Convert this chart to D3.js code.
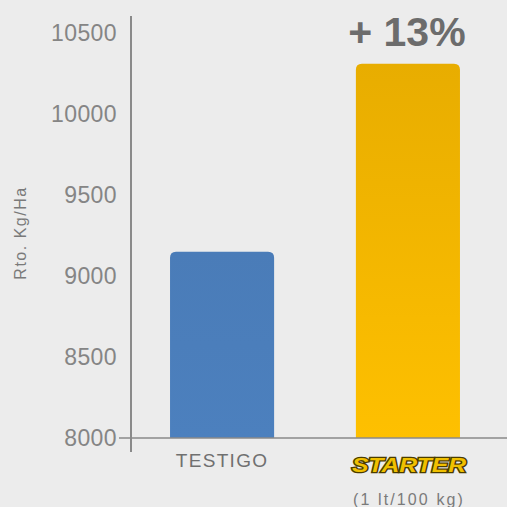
<!DOCTYPE html>
<html><head><meta charset="utf-8">
<script src="https://cdn.jsdelivr.net/npm/d3@7"></script>
<style>
html,body{margin:0;padding:0;background:#ececec;}
svg{display:block;}
</style></head>
<body>
<div id="chart"></div>
<script>
const categories = ["TESTIGO", "STARTER"];
const values = [9150, 10310];
const yTicks = [8000, 8500, 9000, 9500, 10000, 10500];
const subLabel = "(1 lt/100 kg)";
const yTitle = "Rto. Kg/Ha";
const gainLabel = "+ 13%";

const W = 507, H = 507;
const svg = d3.select("#chart").append("svg").attr("width", W).attr("height", H);
svg.append("rect").attr("width", W).attr("height", H).attr("fill", "#ececec");

const axisX = 131;
const y = d3.scaleLinear().domain([7914, 10605]).range([452, 16]);
const x = d3.scaleBand().domain(categories).range([axisX, 499]).paddingInner(0.44).paddingOuter(0.21);

const defs = svg.append("defs");
const gBlue = defs.append("linearGradient").attr("id","gBlue").attr("x1",0).attr("y1",0).attr("x2",0).attr("y2",1);
gBlue.append("stop").attr("offset","0%").attr("stop-color","#4a7cb8");
gBlue.append("stop").attr("offset","100%").attr("stop-color","#4c80be");
const gYel = defs.append("linearGradient").attr("id","gYel").attr("x1",0).attr("y1",0).attr("x2",0).attr("y2",1);
gYel.append("stop").attr("offset","0%").attr("stop-color","#e8ad00");
gYel.append("stop").attr("offset","100%").attr("stop-color","#fec000");
const fills = ["url(#gBlue)", "url(#gYel)"];

const base = y(8000);
const r = 6;
function barPath(x0, w, top, bottom){
  return `M${x0},${bottom}V${top + r}Q${x0},${top} ${x0 + r},${top}H${x0 + w - r}Q${x0 + w},${top} ${x0 + w},${top + r}V${bottom}Z`;
}
svg.selectAll("path.bar").data(values).enter().append("path")
  .attr("class","bar")
  .attr("d", (d,i) => barPath(x(categories[i]), x.bandwidth(), y(d), base))
  .attr("fill", (d,i) => fills[i]);

// y axis
const yAxis = d3.axisLeft(y).tickValues(yTicks).tickSize(0).tickPadding(14).tickFormat(d3.format("d"));
const gy = svg.append("g").attr("transform", `translate(${axisX},0)`).call(yAxis);
gy.select(".domain").remove();
gy.selectAll("text").attr("font-family","Liberation Sans, Arial, sans-serif").attr("font-size",23)
  .attr("letter-spacing",0.4).attr("fill","#858585");
svg.append("line").attr("x1",axisX).attr("x2",axisX).attr("y1",y(10605)).attr("y2",y(7914))
  .attr("stroke","#8a8a8a").attr("stroke-width",2);
// baseline
svg.append("line").attr("x1",119).attr("x2",W).attr("y1",base).attr("y2",base)
  .attr("stroke","#8a8a8a").attr("stroke-width",1.5);

// y title
svg.append("text").attr("transform",`translate(26,233) rotate(-90)`)
  .attr("text-anchor","middle").attr("font-family","Liberation Sans, Arial, sans-serif")
  .attr("font-size",16).attr("letter-spacing",1.5).attr("fill","#7a7a7a").text(yTitle);

// x labels
const cx0 = x(categories[0]) + x.bandwidth()/2;
const cx1 = x(categories[1]) + x.bandwidth()/2;
svg.append("text").attr("x",cx0).attr("y",467).attr("text-anchor","middle")
  .attr("font-family","Liberation Sans, Arial, sans-serif").attr("font-size",19)
  .attr("letter-spacing",1.3).attr("fill","#707070").text(categories[0]);

svg.append("text").attr("x",cx1 + 1).attr("y",472).attr("text-anchor","middle")
  .attr("font-family","Liberation Sans, Arial, sans-serif").attr("font-size",20)
  .attr("font-weight","bold").attr("font-style","italic")
  .attr("textLength",114).attr("lengthAdjust","spacingAndGlyphs")
  .attr("fill","#f0c000").attr("stroke","#4a3c00").attr("stroke-width",2.6)
  .attr("paint-order","stroke").text(categories[1]);

svg.append("text").attr("x",cx1).attr("y",505).attr("text-anchor","middle")
  .attr("font-family","Liberation Sans, Arial, sans-serif").attr("font-size",16)
  .attr("textLength",110).attr("lengthAdjust","spacing")
  .attr("fill","#7a7a7a").text(subLabel);

svg.append("text").attr("x",cx1 - 1).attr("y",46).attr("text-anchor","middle")
  .attr("font-family","Liberation Sans, Arial, sans-serif").attr("font-size",41)
  .attr("font-weight","bold").attr("fill","#6c6c6c").text(gainLabel);
</script>
</body></html>
